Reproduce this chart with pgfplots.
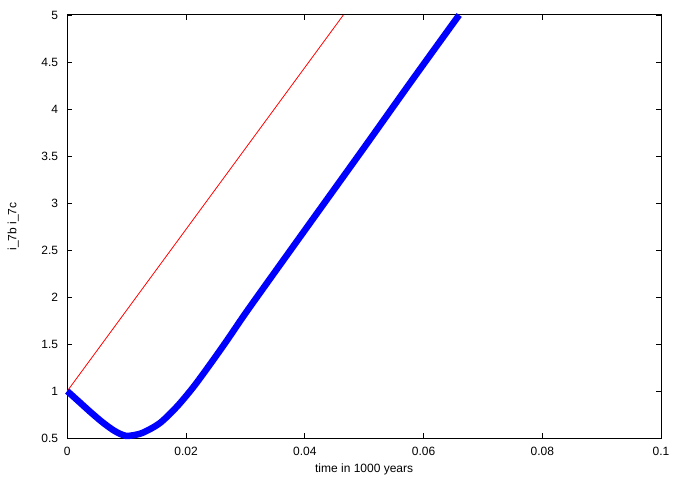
\documentclass[border=0pt]{standalone}
\usepackage{fontspec}
\setmainfont{Liberation Sans}
\usepackage{pgfplots}
\pgfplotsset{compat=1.18}
\usetikzlibrary{calc}

\begin{document}
\fontsize{12bp}{14bp}\selectfont
\begin{tikzpicture}
\begin{axis}[
  name=ax,
  scale only axis,
  width=594bp, height=423.3bp,
  xmin=0, xmax=0.1, ymin=0.5, ymax=5,
  xtick={0,0.02,0.04,0.06,0.08,0.1},
  xticklabels={0,0.02,0.04,0.06,0.08,0.1},
  ytick={0.5,1,1.5,2,2.5,3,3.5,4,4.5,5},
  yticklabels={0.5,1,1.5,2,2.5,3,3.5,4,4.5,5},
  tick align=inside,
  major tick length=5bp,
  tick style={black, line width=0.8bp},
  axis line style={black, line width=1bp},
  xticklabel style={anchor=center, yshift=-13.4bp},
  yticklabel style={anchor=east, xshift=-5bp},
  xlabel={time in 1000 years},
  ylabel={i\_7b\ i\_7c},
  xlabel style={at={(axis description cs:0.5,-0.073)}, anchor=center},
  ylabel style={at={(axis description cs:-0.091,0.5)}, anchor=center},
  clip=false,
]
% red series
\addplot[red, line width=0.8bp] coordinates {
  (0,1.0) (0.0465,5.0)
};
% blue series
\addplot[blue, line width=6.5bp, smooth, tension=0.5] coordinates {
  (0,1.0) (0.0020,0.886) (0.0040,0.772) (0.0060,0.665) (0.0080,0.575)
  (0.0098,0.525) (0.0115,0.535) (0.0130,0.565) (0.0156,0.66) (0.0184,0.83)
  (0.0212,1.04) (0.0240,1.28) (0.0268,1.53) (0.0296,1.79) (0.0324,2.04)
  (0.0400,2.71) (0.0500,3.59) (0.0580,4.30) (0.0660,5.0)
};
\end{axis}
\path ($(ax.south west)+(-67.3bp,-40.7bp)$) rectangle ($(ax.north east)+(23bp,15bp)$);
\end{tikzpicture}
\end{document}
